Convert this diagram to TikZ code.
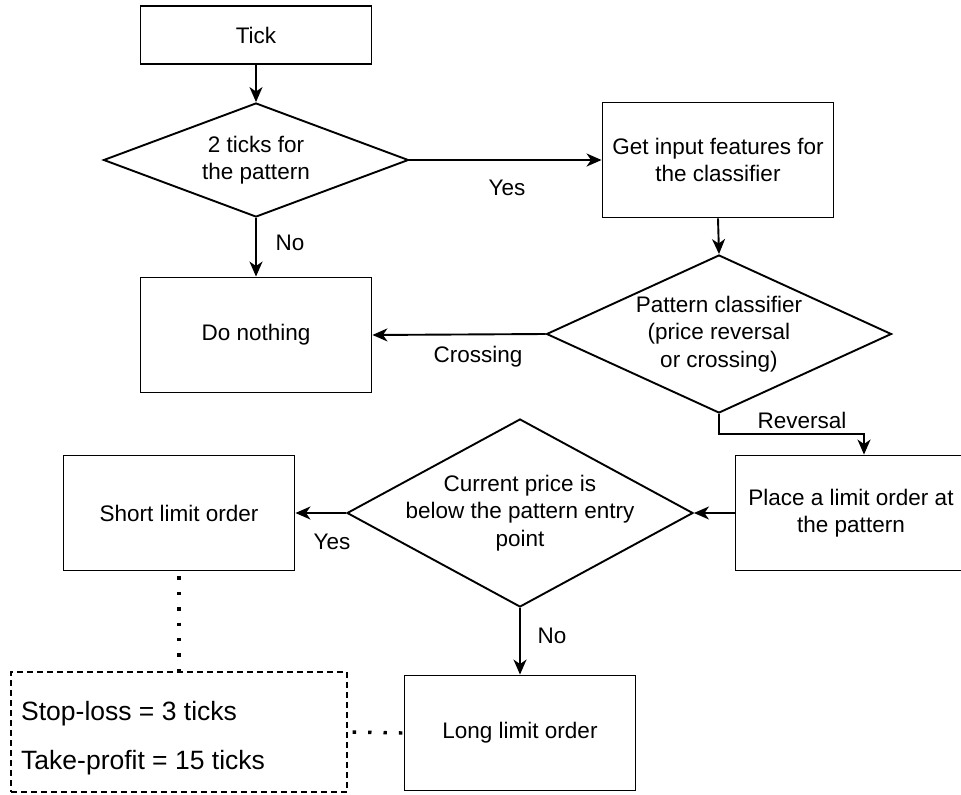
\documentclass[tikz,border=0pt]{standalone}
\usepackage{fontspec}
\setmainfont{Liberation Sans}
\usetikzlibrary{shapes.geometric,arrows.meta}
\begin{document}
\begin{tikzpicture}[x=1pt,y=-1pt,
  every node/.style={font=\fontsize{22.5}{27.5}\selectfont},
  box/.style={draw, line width=1.9pt, minimum width=231pt, minimum height=115pt, align=center, inner sep=0pt},
  dia/.style={draw, diamond, line width=1.9pt, inner sep=0pt},
  txt/.style={align=center, inner sep=0pt},
  arr/.style={line width=1.9pt, -{Stealth[length=15pt,width=13pt,inset=4.5pt]}},
  lbl/.style={inner sep=0pt},
  dots/.style={line width=3.4pt, dash pattern=on 3.4pt off 12pt, dash phase=10.4pt},
  notebox/.style={draw, line width=1.4pt, dash pattern=on 6pt off 4pt},
  notetxt/.style={anchor=west, inner sep=0pt, font=\fontsize{26.5}{30}\selectfont}
]
\useasboundingbox (0,0) rectangle (961,795);

% boxes
\node[box, minimum height=58pt] (tick) at (256,35) {Tick};
\node[box] (none) at (256,335) {Do nothing};
\node[box] (feat) at (718,160) {Get input features for\\the classifier};
\node[box] (place) at (851,513) {Place a limit order at\\the pattern};
\node[box] (short) at (179,513) {Short limit order};
\node[box] (long) at (520,733) {Long limit order};

% diamonds
\node[dia, minimum width=305pt, minimum height=114pt] (d1) at (256,160) {};
\node[txt] (d1t) at (d1.center) {2 ticks for\\the pattern};
\node[dia, minimum width=345pt, minimum height=158pt] (d2) at (719,334) {};
\node[txt] (d2t) at (d2.center) {Pattern classifier\\(price reversal\\or crossing)};
\node[dia, minimum width=346pt, minimum height=188pt] (d3) at (520,513) {};
\node[txt] (d3t) at (d3.center) {Current price is\\below the pattern entry\\point};

% note
\node[notebox, minimum width=336pt, minimum height=120pt] (note) at (179,732) {};
\node[notetxt] (sl) at (21,714) {Stop-loss = 3 ticks};
\node[notetxt] (tp) at (21,763) {Take-profit = 15 ticks};

% connectors
\draw[arr] (tick.south) -- (d1.north);
\draw[arr] (d1.east) -- (feat.west);
\draw[arr] (d1.south) -- (none.north);
\draw[arr] (feat.south) -- (d2.north);
\draw[arr] (d2.west) -- (none.east);
\coordinate (rp) at (864,434);
\draw[arr] (d2.south) |- (rp) -- (rp |- place.north);
\draw[arr] (place.west) -- (d3.east);
\draw[arr] (d3.west) -- (short.east);
\draw[arr] (d3.south) -- (long.north);
\draw[dots] (short.south) -- (note.north);
\draw[dots] (note.east) -- (long.west);

% labels
\node[lbl] (lyes1) at (507,188) {Yes};
\node[lbl] (lno1) at (290,243) {No};
\node[lbl] (lcross) at (478,357) {Crossing};
\node[lbl] (lrev) at (802,420) {Reversal};
\node[lbl] (lyes2) at (332,542) {Yes};
\node[lbl] (lno2) at (552,636) {No};
\end{tikzpicture}
\end{document}
